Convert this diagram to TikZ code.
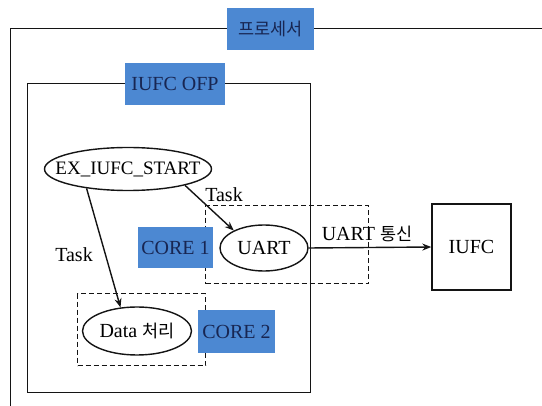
\documentclass[tikz,border=0pt]{standalone}
\usepackage{fontspec}
\setmainfont{Liberation Serif}
\newfontfamily\krfont{Noto Sans CJK KR}
\newcommand{\kr}[1]{{\krfont\fontsize{17.5}{21}\selectfont #1}}
\newcommand{\zw}[1]{\makebox[0pt]{#1}}
\usetikzlibrary{arrows.meta,shapes.geometric}
\definecolor{lblblue}{RGB}{76,136,210}
\definecolor{lbltext}{RGB}{24,38,82}
\definecolor{ln}{RGB}{20,20,20}
\tikzset{
  base/.style={font=\fontsize{20}{23}\selectfont, text=black, inner sep=0pt},
  lbl/.style={base, fill=lblblue, text=lbltext, minimum width=#1, minimum height=42pt},
  frame/.style={draw=ln, line width=1.4pt},
  oval/.style={base, ellipse, draw=ln, line width=1.4pt, fill=white},
  dashbox/.style={draw=ln, line width=1.4pt, dash pattern=on 5pt off 3pt},
  arr/.style={draw=ln, line width=1.4pt, -{Stealth[length=9pt,width=7pt]}},
}
\begin{document}
\begin{tikzpicture}[x=1pt,y=-1pt]
\useasboundingbox (0,0) rectangle (542,406);
\clip (0,0) rectangle (542,406);
% outer processor frame (runs off the page)
\node[frame, rectangle, minimum width=560pt, minimum height=420pt, anchor=north west] (proc) at (10,28) {};
\node[lbl=87pt] (proclbl) at (270.5,29) {\kr{프로세서}};
% IUFC OFP frame
\node[frame, rectangle, minimum width=283pt, minimum height=309pt, anchor=north west] (ofp) at (27,83) {};
\node[lbl=100pt] (ofplbl) at (175,84) {IUFC OFP};
% dashed core boxes
\node[dashbox, rectangle, minimum width=163pt, minimum height=78pt, anchor=north west] (core1box) at (205,205) {};
\node[dashbox, rectangle, minimum width=128pt, minimum height=72pt, anchor=north west] (core2box) at (77,293) {};
% ellipses
\node[oval, minimum width=167pt, minimum height=43pt, font=\fontsize{19}{22}\selectfont] (ex) at (128,169) {\zw{EX\_IUFC\_START}};
\node[oval, minimum width=88pt, minimum height=46pt] (uart) at (264,248) {\zw{UART}};
\node[oval, minimum width=109pt, minimum height=48pt] (data) at (137,331) {\zw{Data \kr{처리}}};
% core labels
\node[lbl=75pt, minimum height=41pt] (core1) at (175.5,247.5) {CORE 1};
\node[lbl=77pt, minimum height=43pt] (core2) at (236.5,331.5) {CORE 2};
% IUFC box
\node[base, frame, rectangle, minimum width=79pt, minimum height=86pt] (iufc) at (471.5,247) {IUFC};
% connectors
\draw[arr] (ex.-16) -- (uart.150);
\draw[arr] (ex.205) -- (data.125);
\draw[arr] (uart.east) -- (iufc.west);
% labels
\node[base] (task1) at (224,195) {Task};
\node[base] (task2) at (74,255) {Task};
\node[base] (uartcomm) at (367,234) {UART \kr{통신}};
\end{tikzpicture}
\end{document}
